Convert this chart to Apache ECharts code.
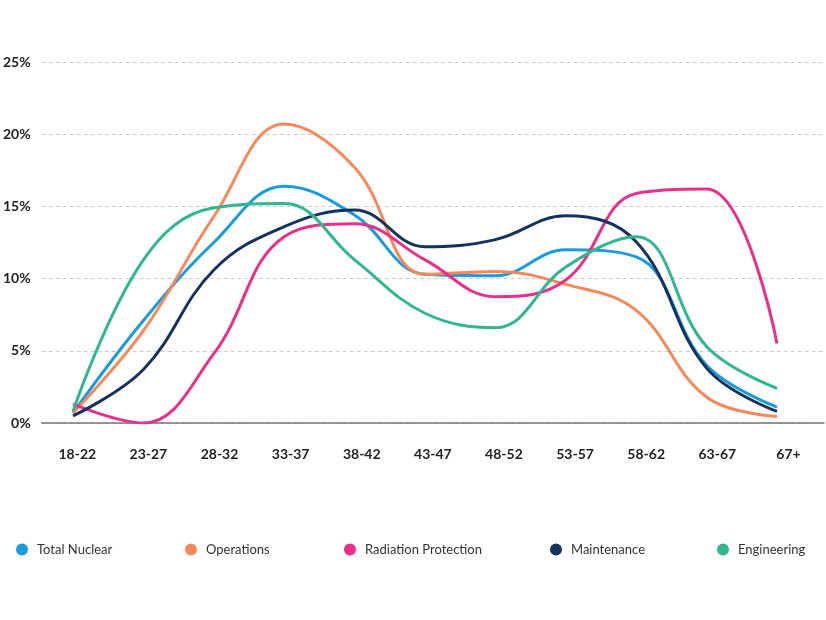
<!DOCTYPE html>
<html>
<head>
<meta charset="utf-8">
<script src="https://cdn.jsdelivr.net/npm/echarts@6/dist/echarts.min.js"></script>
<style>
html,body{margin:0;padding:0;background:#fff;}
#chart{width:826px;height:620px;}
</style>
</head>
<body>
<div id="chart"></div>
<script>
var categories = ['18-22','23-27','28-32','33-37','38-42','43-47','48-52','53-57','58-62','63-67','67+'];
var seriesNames = ['Total Nuclear','Operations','Radiation Protection','Maintenance','Engineering'];
var totalNuclear = [0.7, 7.1, 12.5, 16.4, 14.4, 10.3, 10.2, 12.0, 11.5, 4.0, 1.1];
var operations   = [0.7, 6.4, 14.3, 20.7, 17.7, 10.3, 10.5, 9.6, 7.8, 1.8, 0.45];
var radiation    = [1.3, 0.0, 4.8, 12.9, 13.8, 11.3, 8.75, 9.9, 15.9, 16.2, 5.5];
var maintenance  = [0.5, 3.7, 10.6, 13.6, 14.75, 12.2, 12.7, 14.35, 12.55, 3.8, 0.8];
var engineering  = [0.8, 11.3, 14.9, 15.2, 11.3, 7.6, 6.6, 10.8, 12.9, 5.3, 2.4];
var yTicks = [0, 5, 10, 15, 20, 25];

var colors = ['#1a9bdc', '#f7885a', '#e8308a', '#15325e', '#2fb78f'];
var values = [totalNuclear, operations, radiation, maintenance, engineering];
var legendLeft = [16, 185, 344, 550, 717];

var chart = echarts.init(document.getElementById('chart'));
var font = 'Lato, "Open Sans", sans-serif';

var legends = seriesNames.map(function (n, i) {
  return {
    data: [n], left: legendLeft[i], top: 543, icon: 'circle',
    itemWidth: 12, itemHeight: 12, itemGap: 0, padding: 0,
    textStyle: {fontFamily: font, fontSize: 13, color: '#333', padding: [0,0,0,4]},
    selectedMode: false
  };
});

var option = {
  animation: false,
  color: colors,
  legend: legends,
  grid: [
    {left: 37, right: 2, top: 62, bottom: 197},
    {left: 73, right: 49, top: 62, bottom: 197}
  ],
  xAxis: [
    {
      type: 'category', gridIndex: 0, data: categories, boundaryGap: true,
      axisLine: {lineStyle: {color: '#777', width: 1.5}},
      axisTick: {length: 13, lineStyle: {color: '#555', width: 1.5}},
      axisLabel: {fontFamily: font, fontWeight: 'bold', fontSize: 14, color: '#222', margin: 24}
    },
    {
      type: 'category', gridIndex: 1, data: categories, boundaryGap: false, show: false
    }
  ],
  yAxis: [
    {
      type: 'value', gridIndex: 0, min: 0, max: 25, interval: 5,
      axisLine: {show: false}, axisTick: {show: false},
      axisLabel: {formatter: '{value}%', fontFamily: font, fontWeight: 'bold', fontSize: 14, color: '#222', margin: 11},
      splitLine: {lineStyle: {color: '#ccc', type: [4, 3], width: 1}}
    },
    {type: 'value', gridIndex: 1, min: 0, max: 25, interval: 5, show: false, splitLine: {show: false}}
  ],
  series: seriesNames.map(function (n, i) {
    return {
      name: n, type: 'line', xAxisIndex: 1, yAxisIndex: 1,
      data: values[i], smooth: 0.4, smoothConstraint: false, showSymbol: false, symbol: 'circle',
      lineStyle: {width: 3, color: colors[i]}, itemStyle: {color: colors[i]}
    };
  })
};
chart.setOption(option);
</script>
</body>
</html>
